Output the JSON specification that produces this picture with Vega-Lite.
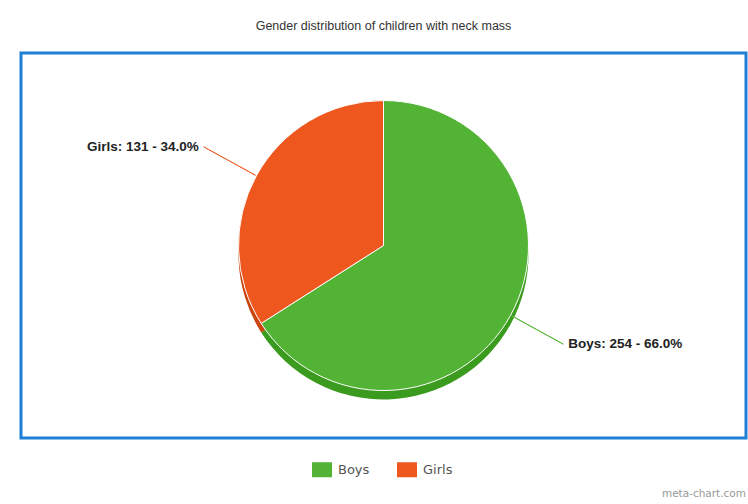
{
  "$schema": "https://vega.github.io/schema/vega-lite/v6.json",
  "width": 725,
  "height": 385,
  "autosize": {"type": "none"},
  "padding": {"left": 21, "top": 53, "right": 2, "bottom": 66},
  "background": "#ffffff",
  "view": {"stroke": "#1f7fd6", "strokeWidth": 3},
  "config": {
    "view": {"stroke": "#1f7fd6", "strokeWidth": 3},
    "font": "Liberation Sans"
  },
  "title": {
    "text": "Gender distribution of children with neck mass",
    "font": "Liberation Sans",
    "fontSize": 12.5,
    "fontWeight": "normal",
    "color": "#333333",
    "anchor": "middle",
    "offset": 21
  },
  "data": {
    "values": [
      {"Gender": "Boys", "count": 254, "label": "Boys: 254 - 66.0%"},
      {"Gender": "Girls", "count": 131, "label": "Girls: 131 - 34.0%"}
    ]
  },
  "layer": [
    {
      "transform": [
        {"stack": "count", "groupby": [], "sort": [{"field": "Gender", "order": "ascending"}], "as": ["s0", "s1"]}
      ],
      "mark": {"type": "arc", "radius": 145, "yOffset": 9},
      "encoding": {
        "theta": {"field": "s1", "type": "quantitative", "scale": {"zero": true, "nice": false}},
        "theta2": {"field": "s0"},
        "fill": {"condition": {"test": "datum.Gender === 'Boys'", "value": "#3b9b1e"}, "value": "#cb4510"}
      }
    },
    {
      "transform": [
        {"stack": "count", "groupby": [], "sort": [{"field": "Gender", "order": "ascending"}], "as": ["s0", "s1"]}
      ],
      "mark": {"type": "arc", "radius": 145, "stroke": "#ffffff", "strokeWidth": 1},
      "encoding": {
        "theta": {"field": "s1", "type": "quantitative", "scale": {"zero": true, "nice": false}},
        "theta2": {"field": "s0"},
        "color": {
          "field": "Gender",
          "type": "nominal",
          "scale": {"domain": ["Boys", "Girls"], "range": ["#52b335", "#ee581f"]},
          "legend": {
            "orient": "none",
            "legendX": 291,
            "legendY": 406.5,
            "direction": "horizontal",
            "title": null,
            "padding": 0,
            "symbolType": "M-1,-0.75H1V0.75H-1Z",
            "symbolSize": 400,
            "symbolStrokeWidth": 0,
            "labelFont": "DejaVu Sans",
            "labelFontSize": 13,
            "labelColor": "#555555",
            "labelOffset": 6,
            "columnPadding": 27
          }
        }
      }
    },
    {
      "transform": [
        {"stack": "count", "groupby": [], "sort": [{"field": "Gender", "order": "ascending"}], "as": ["s0", "s1"]},
        {"fold": ["s0", "s1"]},
        {"aggregate": [{"op": "mean", "field": "value", "as": "mid"}], "groupby": ["Gender", "label"]}
      ],
      "mark": {"type": "arc", "radius": 146, "radius2": 205, "strokeWidth": 1, "fillOpacity": 0},
      "encoding": {
        "theta": {"field": "mid", "type": "quantitative", "scale": {"zero": true, "nice": false}},
        "theta2": {"field": "mid"},
        "stroke": {"condition": {"test": "datum.Gender === 'Boys'", "value": "#5cba3c"}, "value": "#f06a35"}
      }
    },
    {
      "transform": [
        {"stack": "count", "groupby": [], "sort": [{"field": "Gender", "order": "ascending"}], "as": ["s0", "s1"]},
        {"fold": ["s0", "s1"]},
        {"aggregate": [{"op": "mean", "field": "value", "as": "mid"}], "groupby": ["Gender", "label"]},
        {"filter": "datum.Gender === 'Girls'"}
      ],
      "mark": {"type": "text", "radius": 205, "align": "right", "baseline": "middle", "dx": -5, "font": "Liberation Sans", "fontSize": 13.5, "fontWeight": "bold", "color": "#222222"},
      "encoding": {
        "theta": {"field": "mid", "type": "quantitative", "scale": {"zero": true, "nice": false}},
        "text": {"field": "label"}
      }
    },
    {
      "transform": [
        {"stack": "count", "groupby": [], "sort": [{"field": "Gender", "order": "ascending"}], "as": ["s0", "s1"]},
        {"fold": ["s0", "s1"]},
        {"aggregate": [{"op": "mean", "field": "value", "as": "mid"}], "groupby": ["Gender", "label"]},
        {"filter": "datum.Gender === 'Boys'"}
      ],
      "mark": {"type": "text", "radius": 205, "align": "left", "baseline": "middle", "dx": 5, "font": "Liberation Sans", "fontSize": 13.5, "fontWeight": "bold", "color": "#222222"},
      "encoding": {
        "theta": {"field": "mid", "type": "quantitative", "scale": {"zero": true, "nice": false}},
        "text": {"field": "label"}
      }
    },
    {
      "data": {"values": [{"credit": "meta-chart.com"}]},
      "mark": {"type": "text", "x": {"expr": "width"}, "y": {"expr": "height + 59"}, "align": "right", "baseline": "alphabetic", "font": "DejaVu Sans", "fontSize": 10.5, "color": "#999999"},
      "encoding": {"text": {"field": "credit"}}
    }
  ]
}
